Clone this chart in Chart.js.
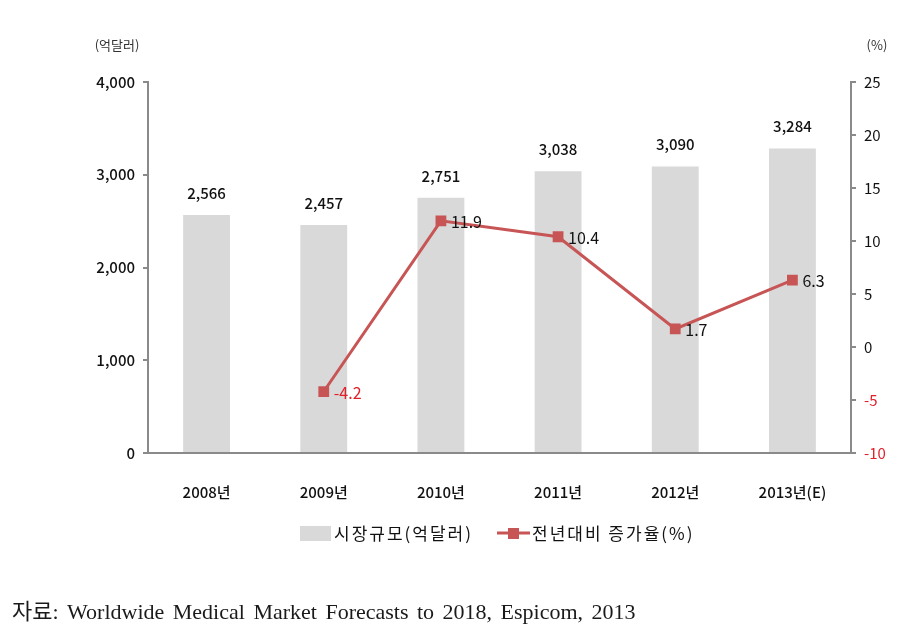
<!DOCTYPE html>
<html>
<head>
<meta charset="utf-8">
<script src="https://cdn.jsdelivr.net/npm/chart.js@4"></script>
<style>
  body { margin: 0; background: #fff; }
  #wrap { position: relative; width: 909px; height: 644px; }
  #source {
    position: absolute; left: 12px; top: 599px;
    font-family: "Liberation Serif", "Noto Sans CJK KR", serif;
    font-size: 22px; line-height: 26px; word-spacing: 3px; color: #1a1a1a;
  }
</style>
</head>
<body>
<div id="wrap">
  <canvas id="chart" width="909" height="644"></canvas>
  <div id="source">자료: Worldwide Medical Market Forecasts to 2018, Espicom, 2013</div>
</div>
<script>
const years = ['2008년', '2009년', '2010년', '2011년', '2012년', '2013년(E)'];
const marketSize = [2566, 2457, 2751, 3038, 3090, 3284];
const growthRate = [null, -4.2, 11.9, 10.4, 1.7, 6.3];
const leftTicks = [0, 1000, 2000, 3000, 4000];
const rightTicks = [-10, -5, 0, 5, 10, 15, 20, 25];

const FONT = '"Noto Sans CJK KR", "Noto Sans", sans-serif';
const axisGray = '#8a8a8a';
const barGray = '#d9d9d9';
const lineRed = 'rgb(200, 85, 85)';

// labels, axis units and legend drawn on top
const extras = {
    id: 'extras',
    afterDatasetsDraw(chart) {
        const ctx = chart.ctx;
        ctx.save();
        ctx.textBaseline = 'middle';

        // bar values (dataset 1)
        ctx.font = '500 15px ' + FONT;
        ctx.fillStyle = '#111';
        ctx.textAlign = 'center';
        chart.getDatasetMeta(1).data.forEach((bar, i) => {
            ctx.fillText(marketSize[i].toLocaleString('en-US'), bar.x, bar.y - 22);
        });

        // line values (dataset 0)
        ctx.font = '16px ' + FONT;
        ctx.textAlign = 'left';
        chart.getDatasetMeta(0).data.forEach((pt, i) => {
            const v = growthRate[i];
            if (v === null) return;
            ctx.fillStyle = v < 0 ? '#e0202a' : '#111';
            ctx.fillText(v.toFixed(1), pt.x + 10, pt.y + 1);
        });

        // axis units
        ctx.font = '13px ' + FONT;
        ctx.fillStyle = '#333';
        ctx.textAlign = 'center';
        ctx.fillText('(억달러)', 117, 45);
        ctx.fillText('(%)', 877, 45);

        // legend
        ctx.fillStyle = barGray;
        ctx.fillRect(300, 526, 31, 15);
        ctx.font = '17px ' + FONT;
        ctx.letterSpacing = '2px';
        ctx.fillStyle = '#111';
        ctx.textAlign = 'left';
        ctx.fillText('시장규모(억달러)', 334, 534);
        ctx.strokeStyle = lineRed;
        ctx.lineWidth = 3;
        ctx.beginPath();
        ctx.moveTo(497, 533);
        ctx.lineTo(530, 533);
        ctx.stroke();
        ctx.fillStyle = lineRed;
        ctx.fillRect(508, 528, 11, 11);
        ctx.fillStyle = '#111';
        ctx.fillText('전년대비 증가율(%)', 532, 534);
        ctx.restore();
    }
};

const ctx = document.getElementById('chart').getContext('2d');
new Chart(ctx, {
    data: {
        labels: years,
        datasets: [{
            type: 'line',
            label: '전년대비 증가율(%)',
            data: growthRate,
            yAxisID: 'y1',
            borderColor: lineRed,
            backgroundColor: lineRed,
            borderWidth: 3,
            pointStyle: 'rect',
            pointRadius: 5.5,
            pointHoverRadius: 5.5,
            order: 1
        }, {
            type: 'bar',
            label: '시장규모(억달러)',
            data: marketSize,
            yAxisID: 'y',
            backgroundColor: barGray,
            barPercentage: 0.4,
            categoryPercentage: 1,
            order: 2
        }]
    },
    options: {
        responsive: false,
        animation: false,
        layout: { padding: { top: 82, left: 0, right: 0, bottom: 0 } },
        plugins: {
            legend: { display: false },
            tooltip: { enabled: false }
        },
        scales: {
            x: {
                grid: { display: false },
                border: { color: axisGray, width: 2 },
                ticks: { font: { family: FONT, size: 15, weight: 500 }, color: '#111', padding: 22 },
                afterFit(scale) { scale.height = 191; }
            },
            y: {
                position: 'left',
                min: 0, max: 4000,
                afterBuildTicks(scale) { scale.ticks = leftTicks.map(v => ({ value: v })); },
                grid: { drawOnChartArea: false, tickLength: 5, color: axisGray, lineWidth: 2 },
                border: { color: axisGray, width: 2 },
                ticks: {
                    font: { family: FONT, size: 15, weight: 500 }, color: '#111', padding: 8,
                    callback: v => v.toLocaleString('en-US')
                },
                afterFit(scale) { scale.width = 148; }
            },
            y1: {
                position: 'right',
                min: -10, max: 25,
                afterBuildTicks(scale) { scale.ticks = rightTicks.map(v => ({ value: v })); },
                grid: { drawOnChartArea: false, tickLength: 5, color: axisGray, lineWidth: 2 },
                border: { color: axisGray, width: 2 },
                ticks: {
                    font: { family: FONT, size: 15 }, padding: 8,
                    color: c => (c.tick && c.tick.value < 0 ? '#e0202a' : '#111')
                },
                afterFit(scale) { scale.width = 58; }
            }
        }
    },
    plugins: [extras]
});
</script>
</body>
</html>
